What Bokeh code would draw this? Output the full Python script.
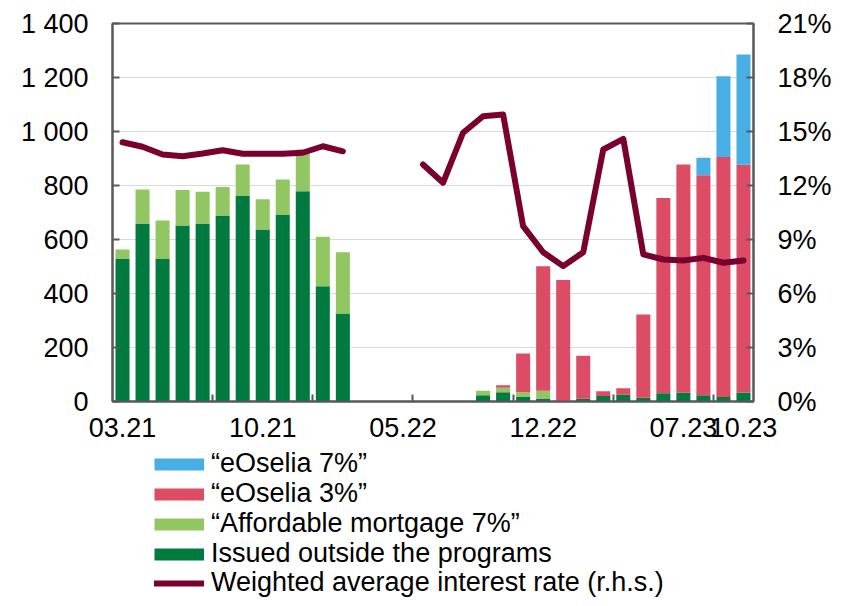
import numpy as np
from bokeh.plotting import figure
from bokeh.layouts import column
from bokeh.models import (ColumnDataSource, Range1d, LinearAxis, FixedTicker,
                          Legend, LegendItem)
from bokeh.embed import file_html
from bokeh.resources import INLINE

months = ["03.21", "04.21", "05.21", "06.21", "07.21", "08.21", "09.21", "10.21",
          "11.21", "12.21", "01.22", "02.22", "03.22", "04.22", "05.22", "06.22",
          "07.22", "08.22", "09.22", "10.22", "11.22", "12.22", "01.23", "02.23",
          "03.23", "04.23", "05.23", "06.23", "07.23", "08.23", "09.23", "10.23"]

outside = [530, 659, 530, 652, 659, 689, 763, 637, 693, 779, 427, 326,
           0, 0, 0, 0, 0, 0, 23, 34, 17, 11, 2, 10, 20, 25, 14, 31, 33, 23, 17, 33]
affordable = [33, 126, 140, 131, 118, 105, 115, 112, 129, 154, 183, 227,
              0, 0, 0, 0, 0, 5, 17, 17, 17, 29, 0, 0, 0, 0, 0, 0, 0, 0, 0, 0]
eoselia3 = [0, 0, 0, 0, 0, 0, 0, 0, 0, 0, 0, 0,
            0, 0, 0, 0, 0, 0, 0, 9, 144, 461, 448, 159, 18, 24, 308, 723, 845, 815, 889, 844]
eoselia7 = [0, 0, 0, 0, 0, 0, 0, 0, 0, 0, 0, 0,
            0, 0, 0, 0, 0, 0, 0, 0, 0, 0, 0, 0, 0, 0, 0, 0, 0, 65, 299, 408]
rate = [14.4, 14.15, 13.72, 13.63, 13.78, 13.96, 13.76, 13.76, 13.76, 13.82, 14.18, 13.9,
        np.nan, np.nan, np.nan, 13.17, 12.15, 14.93, 15.85, 15.94, 9.74, 8.29, 7.52, 8.29,
        14.0, 14.59, 8.17, 7.89, 7.83, 7.98, 7.71, 7.83]

label_idx = [0, 7, 14, 21, 28, 31]
minor_idx = [4.5, 9.5, 14.5, 19.5, 24.5, 29.5]
left_ticks = [0, 200, 400, 600, 800, 1000, 1200, 1400]
right_ticks = [0, 3, 6, 9, 12, 15, 18, 21]

labels = ["\u201ceOselia 7%\u201d", "\u201ceOselia 3%\u201d",
          "\u201cAffordable mortgage 7%\u201d", "Issued outside the programs",
          "Weighted average interest rate (r.h.s.)"]

C_DARK = "#007A3F"
C_LIGHT = "#92C662"
C_RED = "#DC4C64"
C_BLUE = "#48AFE4"
C_LINE = "#7A0030"
AX = "#595959"
FONT = "Liberation Sans"

src = ColumnDataSource(dict(
    x=np.arange(len(months), dtype=float),
    outside=np.array(outside, dtype=float),
    affordable=np.array(affordable, dtype=float),
    eos3=np.array(eoselia3, dtype=float),
    eos7=np.array(eoselia7, dtype=float),
    rate=np.array(rate, dtype=float),
))

p = figure(width=834, height=448, x_range=Range1d(-0.5, len(months) - 0.5),
           y_range=Range1d(0, 1400), output_backend="svg", toolbar_location=None,
           min_border_left=112, min_border_right=80, min_border_top=23,
           min_border_bottom=47)
p.extra_y_ranges = {"pct": Range1d(0, 21)}

p.vbar_stack(["outside", "affordable", "eos3", "eos7"], x="x", width=0.7,
             color=[C_DARK, C_LIGHT, C_RED, C_BLUE], line_color=None, source=src)

p.line("x", "rate", source=src, y_range_name="pct", line_color=C_LINE,
       line_width=6, line_join="round", line_cap="round")

# x axis
xa = p.xaxis[0]
xa.ticker = FixedTicker(ticks=label_idx, minor_ticks=minor_idx)
xa.major_label_overrides = {i: months[i] for i in label_idx}
xa.major_tick_line_color = None
xa.major_tick_in = 0
xa.major_tick_out = 0
xa.minor_tick_in = 7
xa.minor_tick_out = 0
xa.minor_tick_line_color = AX
xa.minor_tick_line_width = 2
xa.major_label_standoff = 16

# left axis
ya = p.yaxis[0]
ya.ticker = FixedTicker(ticks=left_ticks)
ya.major_label_overrides = {v: f"{v:,}".replace(",", " ") for v in left_ticks}
ya.major_tick_in = 7
ya.major_tick_out = 0
ya.minor_tick_line_color = None
ya.major_label_standoff = 24

# right axis
ra = LinearAxis(y_range_name="pct", ticker=FixedTicker(ticks=right_ticks))
ra.major_label_overrides = {v: f"{v}%" for v in right_ticks}
ra.major_tick_in = 7
ra.major_tick_out = 0
ra.minor_tick_line_color = None
ra.major_label_standoff = 24
p.add_layout(ra, "right")

for ax in [xa, ya, ra]:
    ax.axis_line_color = AX
    ax.axis_line_width = 2
    ax.major_tick_line_width = 2
    ax.major_label_text_font = FONT
    ax.major_label_text_font_size = "27px"
    ax.major_label_text_color = "black"
ya.major_tick_line_color = AX
ra.major_tick_line_color = AX

p.xgrid.grid_line_color = None
p.ygrid.ticker = FixedTicker(ticks=left_ticks)
p.ygrid.grid_line_color = "#D9D9D9"
p.ygrid.grid_line_width = 1

p.outline_line_color = AX
p.outline_line_width = 2
p.background_fill_color = "white"
p.border_fill_color = "white"

# legend strip (below the chart): one single-row legend per entry
lg = figure(width=834, height=150, x_range=Range1d(0, 1), y_range=Range1d(0, 1),
            output_backend="svg", toolbar_location=None, x_axis_type=None,
            y_axis_type=None, min_border=0)
lg.outline_line_color = None
lg.xgrid.grid_line_color = None
lg.ygrid.grid_line_color = None

hx = [-5.0, -4.0]
hy = [-5.0, -5.0]
swatch_colors = [C_BLUE, C_RED, C_LIGHT, C_DARK, C_LINE]
swatch_widths = [12, 12, 12, 12, 6]
swatch_caps = ["butt", "butt", "butt", "butt", "round"]
row_bottoms = [119, 89, 59, 29, 0]

for lab, col, lw, cap, yb in zip(labels, swatch_colors, swatch_widths,
                                 swatch_caps, row_bottoms):
    r = lg.line(x=hx, y=hy, line_color=col, line_width=lw, line_cap=cap)
    leg = Legend(items=[LegendItem(label=lab, renderers=[r])],
                 location=(42, yb), orientation="vertical",
                 glyph_width=50, glyph_height=30, label_height=30, spacing=0,
                 padding=0, margin=0, border_line_color=None,
                 background_fill_alpha=0, label_standoff=7,
                 label_text_font=FONT, label_text_font_size="27px",
                 label_text_color="black")
    lg.add_layout(leg, "center")

layout = column(p, lg, spacing=0)
open("out.html", "w").write(file_html(layout, INLINE))
